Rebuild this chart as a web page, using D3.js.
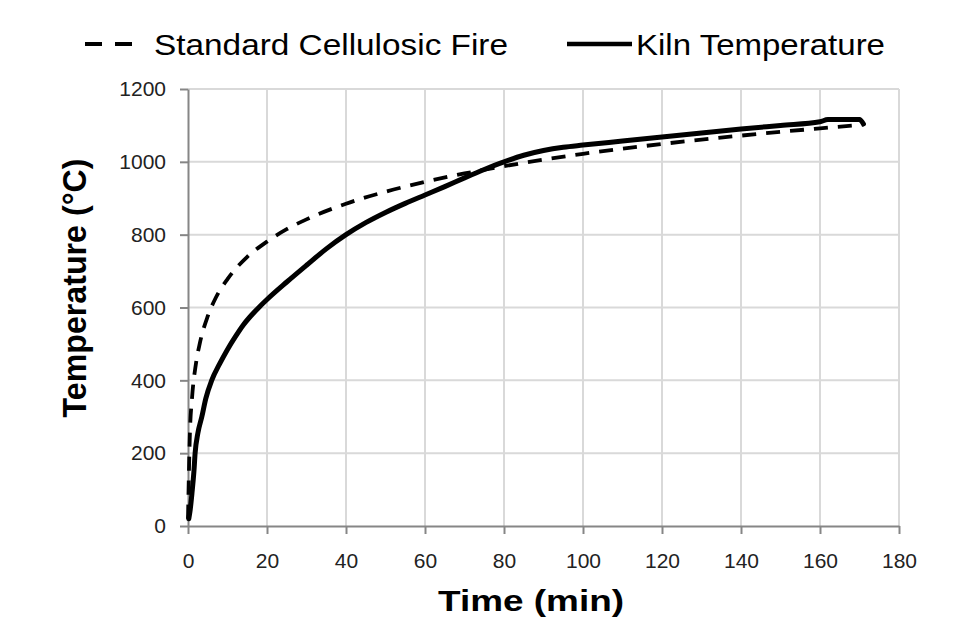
<!DOCTYPE html>
<html>
<head>
<meta charset="utf-8">
<script src="https://cdn.jsdelivr.net/npm/d3@7"></script>
<style>
  body { margin: 0; background: #fff; }
  svg { display: block; font-family: "Liberation Sans", Arial, sans-serif; }
  .grid line { stroke: #d9d9d9; stroke-width: 2; }
  .axis path, .axis line { stroke: #868686; stroke-width: 2; }
  .axis text { fill: #222; font-size: 21px; }
</style>
</head>
<body>
<div id="chart"></div>
<script>
// Standard cellulosic fire curve
var fireTime = [0, 0.5, 1, 2, 3, 5, 7, 10, 15, 20, 25, 30, 40, 50, 60, 70, 80, 90, 100, 120, 140, 160, 171];
var fireTemp = [20, 261, 349, 445, 502, 576, 626, 678, 739, 781, 815, 842, 885, 918, 945, 968, 988, 1006, 1022, 1049, 1072, 1092, 1102];

// measured kiln temperature
var kilnTime = [0.2, 0.5, 1, 1.5, 1.8, 2.5, 3.5, 4.5, 6, 8, 10, 12, 14, 16, 18, 20, 25, 30, 35, 40, 45, 50, 55, 60, 65, 70, 75, 80, 85, 90, 95, 100, 110, 120, 130, 140, 150, 160, 162, 170, 171];
var kilnTemp = [20, 40, 90, 150, 200, 255, 300, 350, 400, 445, 485, 520, 552, 578, 601, 622, 670, 716, 761, 800, 833, 861, 886, 909, 932, 956, 979, 1000, 1018, 1031, 1040, 1046, 1057, 1068, 1079, 1090, 1100, 1110, 1116, 1116, 1104];

var xTicks = [0, 20, 40, 60, 80, 100, 120, 140, 160, 180];
var yTicks = [0, 200, 400, 600, 800, 1000, 1200];
var legendLabels = ["Standard Cellulosic Fire", "Kiln Temperature"];

var W = 955, H = 618;
var margin = {top: 89, right: 56, bottom: 92, left: 188};
var width = W - margin.left - margin.right,
    height = H - margin.top - margin.bottom;

var svg = d3.select("#chart").append("svg")
  .attr("width", W)
  .attr("height", H);

var g = svg.append("g")
  .attr("transform", "translate(" + margin.left + "," + margin.top + ")");

var x = d3.scaleLinear().domain([0, 180]).range([0, width]);
var y = d3.scaleLinear().domain([0, 1200]).range([height, 0]);

// gridlines
g.append("g").attr("class", "grid")
  .selectAll("line.v").data(xTicks.slice(1)).enter().append("line")
  .attr("x1", function(d){ return x(d); }).attr("x2", function(d){ return x(d); })
  .attr("y1", 0).attr("y2", height);
g.select(".grid")
  .selectAll("line.h").data(yTicks.slice(1)).enter().append("line")
  .attr("x1", 0).attr("x2", width)
  .attr("y1", function(d){ return y(d); }).attr("y2", function(d){ return y(d); });

// axes
var xAxis = d3.axisBottom(x).tickValues(xTicks).tickFormat(d3.format("d"))
  .tickSize(8).tickSizeOuter(0).tickPadding(19);
var yAxis = d3.axisLeft(y).tickValues(yTicks).tickFormat(d3.format("d"))
  .tickSize(8).tickSizeOuter(0).tickPadding(14);

g.append("g").attr("class", "axis x-axis")
  .attr("transform", "translate(0," + height + ")")
  .call(xAxis);
g.append("g").attr("class", "axis y-axis")
  .call(yAxis);

// series
var fire = fireTime.map(function(t, i){ return {t: t, v: fireTemp[i]}; });
var kiln = kilnTime.map(function(t, i){ return {t: t, v: kilnTemp[i]}; });

var line = d3.line()
  .x(function(d){ return x(d.t); })
  .y(function(d){ return y(d.v); })
  .curve(d3.curveMonotoneX);

g.append("path").datum(fire)
  .attr("fill", "none").attr("stroke", "#000")
  .attr("stroke-width", 3.8)
  .attr("stroke-dasharray", "14,10")
  .attr("d", line);

g.append("path").datum(kiln)
  .attr("fill", "none").attr("stroke", "#000")
  .attr("stroke-width", 5)
  .attr("stroke-linejoin", "round")
  .attr("stroke-linecap", "round")
  .attr("d", line);

// axis titles
svg.append("text")
  .attr("x", 531).attr("y", 611)
  .attr("text-anchor", "middle")
  .attr("font-size", 30).attr("font-weight", "bold")
  .attr("textLength", 186).attr("lengthAdjust", "spacingAndGlyphs")
  .text("Time (min)");

svg.append("text")
  .attr("transform", "translate(86,288) rotate(-90)")
  .attr("text-anchor", "middle")
  .attr("font-size", 34).attr("font-weight", "bold")
  .attr("textLength", 259).attr("lengthAdjust", "spacingAndGlyphs")
  .text("Temperature (°C)");

// legend
var leg = svg.append("g");
leg.append("line")
  .attr("x1", 85).attr("x2", 133).attr("y1", 44).attr("y2", 44)
  .attr("stroke", "#000").attr("stroke-width", 4)
  .attr("stroke-dasharray", "17,13");
leg.append("text")
  .attr("x", 154).attr("y", 55)
  .attr("font-size", 29)
  .attr("textLength", 354).attr("lengthAdjust", "spacingAndGlyphs")
  .text(legendLabels[0]);
leg.append("line")
  .attr("x1", 567).attr("x2", 632).attr("y1", 44).attr("y2", 44)
  .attr("stroke", "#000").attr("stroke-width", 4.5);
leg.append("text")
  .attr("x", 636).attr("y", 55)
  .attr("font-size", 29)
  .attr("textLength", 249).attr("lengthAdjust", "spacingAndGlyphs")
  .text(legendLabels[1]);
</script>
</body>
</html>
